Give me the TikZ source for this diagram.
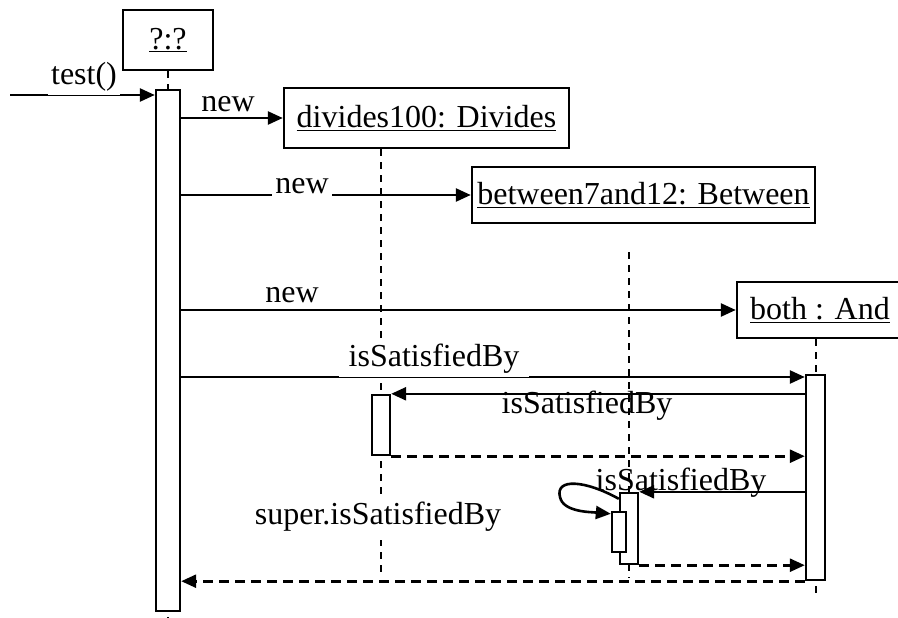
\documentclass[tikz,border=0pt]{standalone}
\usepackage{fontspec}
\setmainfont{Liberation Serif}
\usetikzlibrary{arrows.meta,positioning,backgrounds}

\tikzset{
  obj/.style={draw, line width=2.4pt, fill=white, inner sep=0pt},
  act/.style={draw, line width=2.4pt, fill=white, inner sep=0pt},
  msg/.style={line width=2.6pt, -{Triangle[length=15pt,width=13pt]}},
  ret/.style={msg, dash pattern=on 10pt off 6pt},
  life/.style={line width=2pt, dash pattern=on 7pt off 6pt},
  lbl/.style={inner xsep=3pt, inner ysep=4pt},
}

\begin{document}
\begin{tikzpicture}[x=1pt,y=-1pt,font=\fontsize{32}{36}\selectfont]
  \useasboundingbox (0,0) rectangle (898,618);
  % objects
  \node[obj, minimum width=90pt, minimum height=60pt] (q) at (168,40) {\underline{?:?}};
  \node[obj, minimum width=285pt, minimum height=60pt] (div) at (426.5,118) {\underline{divides100: Divides}};
  \node[obj, minimum width=343pt, minimum height=56pt] (bet) at (643.5,195) {\underline{between7and12: Between}};
  \node[obj, minimum width=166pt, minimum height=56pt] (both) at (820,310) {\underline{both : And}};
  % activations
  \node[act, minimum width=24pt, minimum height=521pt] (act1) at (168,350.5) {};
  \node[act, minimum width=18pt, minimum height=60pt] (divAct) at (381,425) {};
  \node[act, minimum width=18pt, minimum height=71pt] (betAct) at (629,528.5) {};
  \node[act, minimum width=14pt, minimum height=40pt] (selfAct) at (619,532) {};
  \node[act, minimum width=19pt, minimum height=205pt] (bothAct) at (815.5,477.5) {};
  % lifelines
  \coordinate (bottom) at (0,618);
  \coordinate (divEnd) at (0,576);
  \coordinate (betTop) at (629,252);
  \coordinate (betEnd) at (0,578);
  \coordinate (bothEnd) at (0,598);
  \begin{scope}[on background layer]
    \draw[life] (q.south) -- (q.south |- bottom);
    \draw[life] (divAct.center |- div.south) -- (divAct.center |- divEnd);
    \draw[life] (betTop) -- (betTop |- betEnd);
    \draw[life] (bothAct.center |- both.south) -- (bothAct.center |- bothEnd);
  \end{scope}
  % messages
  \coordinate (src) at (10,95);
  \coordinate (m4) at (0,377);
  \draw[msg] (src) -- (act1.west |- src);
  \draw[msg] (act1.east |- div.west) -- (div.west);
  \draw[msg] (act1.east |- bet.west) -- (bet.west);
  \draw[msg] (act1.east |- both.west) -- (both.west);
  \draw[msg] (act1.east |- m4) -- (bothAct.west |- m4);
  \draw[msg] (bothAct.west |- divAct.north) -- (divAct.north east);
  \draw[ret] (divAct.south east) -- (bothAct.west |- divAct.south);
  \draw[msg] (bothAct.west |- betAct.north) -- (betAct.north east);
  \draw[msg] ([yshift=-7pt]betAct.north west) .. controls (585,480) and (555,478) .. (560,497)
    .. controls (563,512) and (590,512) .. ([yshift=-3pt]selfAct.north west);
  \draw[ret] (betAct.south east) -- (bothAct.west |- betAct.south);
  \draw[ret] (bothAct.south west) -- (act1.east |- bothAct.south);
  % labels
  \node[lbl, fill=white, anchor=south] (lTest) at (84,95.5) {test()};
  \node[lbl, anchor=base] (lNew1) at (228,112) {new};
  \node[lbl, fill=white, anchor=south] (lNew2) at (302,198.5) {new};
  \node[lbl, anchor=base] (lNew3) at (292,302) {new};
  \node[lbl, fill=white, anchor=south, inner xsep=10pt] (lSat1) at (434,377.5) {isSatisfiedBy};
  \node[lbl, anchor=base] (lSat2) at (587,413) {isSatisfiedBy};
  \node[lbl, anchor=base] (lSat3) at (681,490) {isSatisfiedBy};
  \node[lbl, fill=white, inner ysep=8pt] (lSuper) at (378,517) {super.isSatisfiedBy};
\end{tikzpicture}
\end{document}
